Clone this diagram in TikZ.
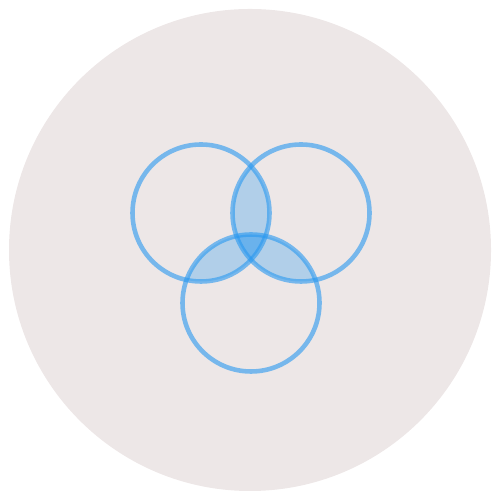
\documentclass[tikz,border=0pt]{standalone}
\usepackage{tikz}
\usetikzlibrary{backgrounds}
\definecolor{discbg}{HTML}{EDE7E7}
\definecolor{vennblue}{HTML}{2898F0}

\begin{document}
\begin{tikzpicture}[thick]
  \useasboundingbox (0,0) rectangle (10,10);
  % Background disc
  \fill[discbg] (5,5) circle (4.82cm);

  % Circle centres
  \coordinate (left) at (4.02,5.74);
  \coordinate (right) at (6.02,5.74);
  \coordinate (bottom) at (5.02,3.94);

  % Pairwise overlaps
  \begin{scope}
    \clip (left) circle (1.37cm);
    \fill[vennblue, fill opacity=0.3] (right) circle (1.37cm);
  \end{scope}
  \begin{scope}
    \clip (left) circle (1.37cm);
    \fill[vennblue, fill opacity=0.3] (bottom) circle (1.37cm);
  \end{scope}
  \begin{scope}
    \clip (right) circle (1.37cm);
    \fill[vennblue, fill opacity=0.3] (bottom) circle (1.37cm);
  \end{scope}

  % Outlines
  \draw[vennblue, draw opacity=0.6, line width=2.6pt] (left) circle (1.37cm);
  \draw[vennblue, draw opacity=0.6, line width=2.6pt] (right) circle (1.37cm);
  \draw[vennblue, draw opacity=0.6, line width=2.6pt] (bottom) circle (1.37cm);
\end{tikzpicture}
\end{document}
